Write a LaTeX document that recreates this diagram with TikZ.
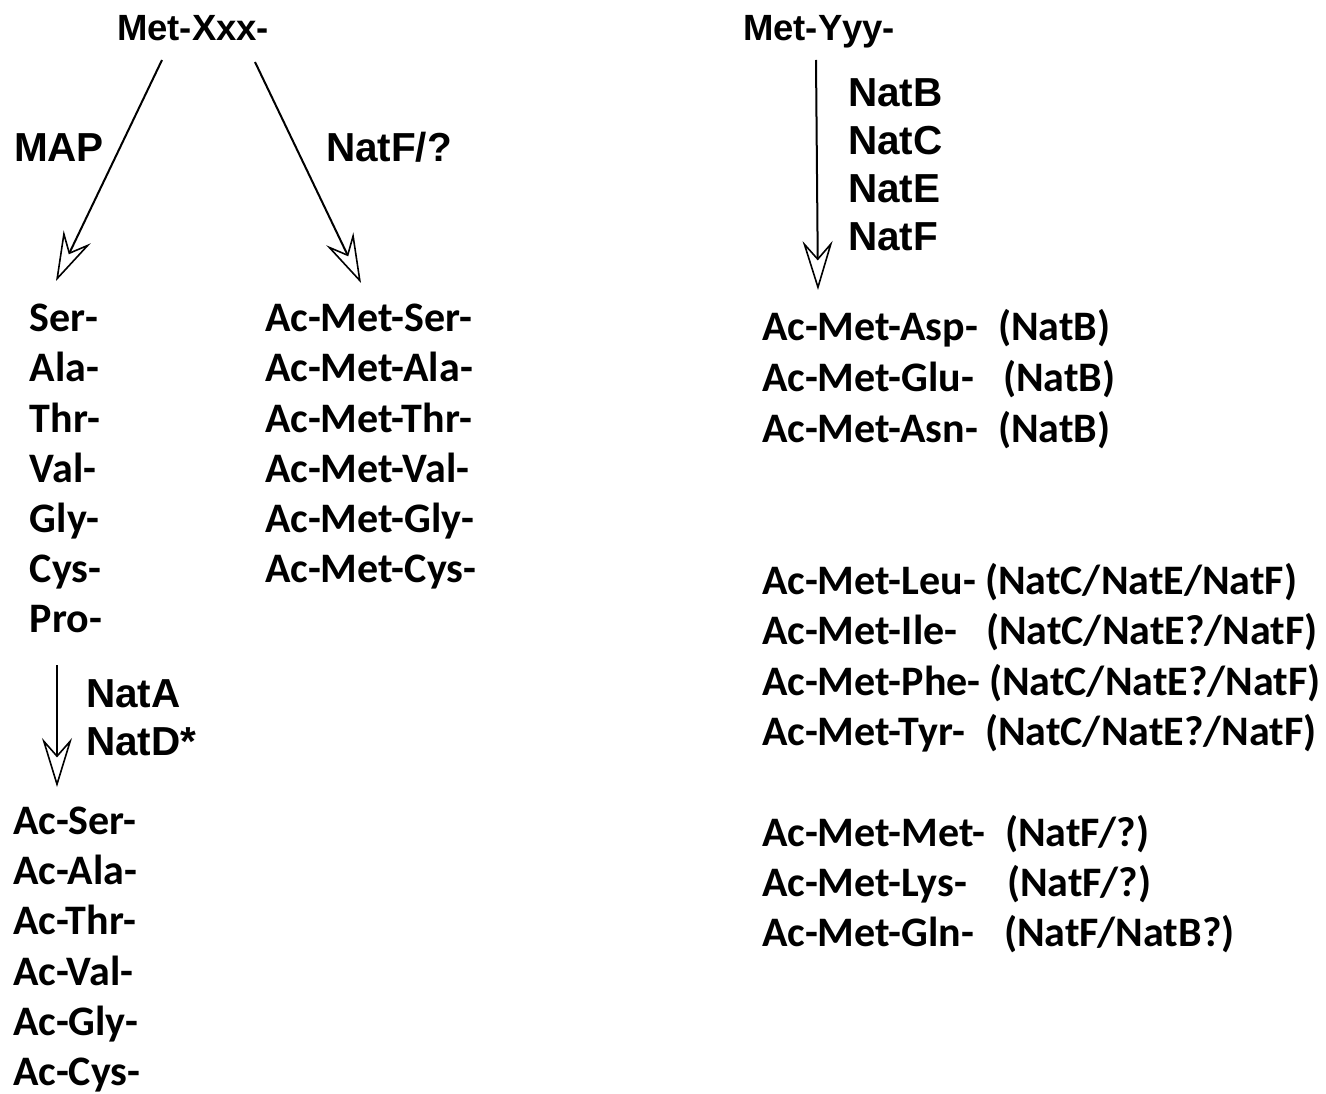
\documentclass[tikz,border=0pt]{standalone}
\usepackage{fontspec}
\setmainfont{Carlito}
\newfontfamily\arialf{Liberation Sans}
\usetikzlibrary{arrows.meta}
\tikzset{
  hdr/.style={font=\fontsize{36.5}{36}\arialf\bfseries, anchor=base west, inner sep=0pt, outer sep=0pt},
  lbl/.style={font=\fontsize{40.5}{40}\arialf\bfseries, anchor=base west, inner sep=0pt, outer sep=0pt},
  item/.style={font=\fontsize{42}{42}\selectfont\bfseries, anchor=base west, inner sep=0pt, outer sep=0pt},
  arr/.style={line width=2pt, -{Stealth[open, length=49pt, width=30pt, inset=17pt, fill=white, line width=1.6pt]}}
}
\begin{document}
\begin{tikzpicture}[x=1pt,y=-1pt]
\useasboundingbox (0,0) rectangle (1326,1094);
% headers
\node[hdr] (xxx) at (117,41) {Met-Xxx-};
\node[hdr] (yyy) at (743,41) {Met-Yyy-};
% labels
\node[lbl] (map) at (14,162) {MAP};
\node[lbl] (natfq) at (326,162) {NatF/?};
\node[lbl] (nata) at (86,707) {NatA};
\node[lbl] (natd) at (86,755) {NatD*};
\node[lbl] (natb) at (848,107) {NatB};
\node[lbl] (natc) at (848,155) {NatC};
\node[lbl] (nate) at (848,203) {NatE};
\node[lbl] (natf) at (848,251) {NatF};
% left list
\node[item] (ser) at (30,331) {Ser-};
\node[item] (ala) at (30,381) {Ala-};
\node[item] (thr) at (30,432) {Thr-};
\node[item] (val) at (30,482) {Val-};
\node[item] (gly) at (30,532) {Gly-};
\node[item] (cys) at (30,582) {Cys-};
\node[item] (pro) at (30,632) {Pro-};
% Ac-Met column
\node[item] (mser) at (265,331) {Ac-Met-Ser-};
\node[item] (mala) at (265,381) {Ac-Met-Ala-};
\node[item] (mthr) at (265,432) {Ac-Met-Thr-};
\node[item] (mval) at (265,482) {Ac-Met-Val-};
\node[item] (mgly) at (265,532) {Ac-Met-Gly-};
\node[item] (mcys) at (265,582) {Ac-Met-Cys-};
% Ac column
\node[item] (aser) at (13,834) {Ac-Ser-};
\node[item] (aala) at (13,884) {Ac-Ala-};
\node[item] (athr) at (13,934) {Ac-Thr-};
\node[item] (aval) at (13,985) {Ac-Val-};
\node[item] (agly) at (13,1035) {Ac-Gly-};
\node[item] (acys) at (13,1085) {Ac-Cys-};
% right lists
\node[item] (asp) at (762,341) {Ac-Met-Asp-};
\node[item] (aspn) at (998,341) {(NatB)};
\node[item] (glu) at (762,391) {Ac-Met-Glu-};
\node[item] (glun) at (1003,391) {(NatB)};
\node[item] (asn) at (762,442) {Ac-Met-Asn-};
\node[item] (asnn) at (998,442) {(NatB)};
\node[item] (leu) at (762,594) {Ac-Met-Leu-};
\node[item] (leun) at (985,594) {(NatC/NatE/NatF)};
\node[item] (ile) at (762,644) {Ac-Met-Ile-};
\node[item] (ilen) at (986,644) {(NatC/NatE?/NatF)};
\node[item] (phe) at (762,695) {Ac-Met-Phe-};
\node[item] (phen) at (989,695) {(NatC/NatE?/NatF)};
\node[item] (tyr) at (762,745) {Ac-Met-Tyr-};
\node[item] (tyrn) at (985,745) {(NatC/NatE?/NatF)};
\node[item] (met) at (762,846) {Ac-Met-Met-};
\node[item] (metn) at (1005,846) {(NatF/?)};
\node[item] (lys) at (762,896) {Ac-Met-Lys-};
\node[item] (lysn) at (1007,896) {(NatF/?)};
\node[item] (gln) at (762,946) {Ac-Met-Gln-};
\node[item] (glnn) at (1004,946) {(NatF/NatB?)};
% arrow end points
\coordinate (a1s) at (162,60);
\coordinate (a1e) at (56,281);
\coordinate (a2s) at (255,62);
\coordinate (a2e) at (361,283);
\coordinate (a3s) at (57,665);
\coordinate (a3e) at (57,787);
\coordinate (a4s) at (816,60);
\coordinate (a4e) at (818,290);
\draw[arr] (a1s) -- (a1e);
\draw[arr] (a2s) -- (a2e);
\draw[arr] (a3s) -- (a3e);
\draw[arr] (a4s) -- (a4e);
\end{tikzpicture}
\end{document}
